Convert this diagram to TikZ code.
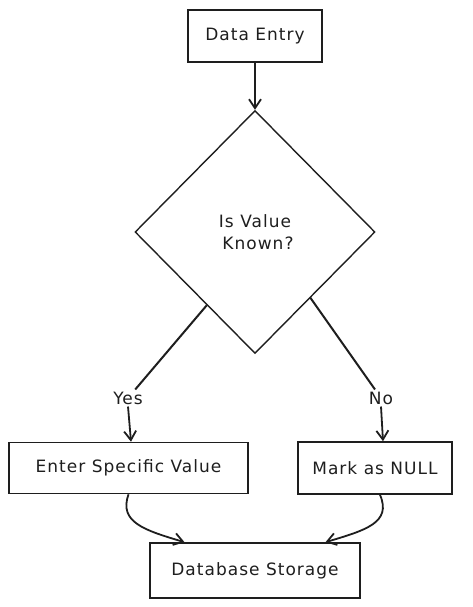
\documentclass[tikz,border=0pt]{standalone}
\usepackage{fontspec}
\setmainfont{DejaVu Sans}[LetterSpace=6]
\usetikzlibrary{shapes.geometric,arrows.meta,calc}
\definecolor{ink}{HTML}{1E1E1E}
\tikzset{
  txt/.style={text=ink, font=\fontsize{17}{22}\selectfont},
  box/.style={txt, draw=ink, line width=1.6pt, rectangle, inner sep=0pt},
  dia/.style={txt, draw=ink, line width=1.4pt, diamond, inner sep=0pt, align=center},
  lbl/.style={txt, inner sep=2pt},
  conn/.style={draw=ink, line width=2pt},
  arr/.style={draw=ink, line width=1.8pt, -{Straight Barb[length=9pt,width=12pt,line width=1.8pt]}}
}
\begin{document}
\begin{tikzpicture}[x=1pt,y=-1pt]
\useasboundingbox (0,0) rectangle (472,607);
\node[box, minimum width=134pt, minimum height=52pt] (de) at (255,36) {Data Entry};
\node[dia, minimum width=240pt, minimum height=243pt] (q) at (255,232) {Is Value\\ \hspace*{6pt}Known?};
\node[box, minimum width=239pt, minimum height=51pt] (esv) at (128.5,468) {Enter Specific Value};
\node[box, minimum width=154pt, minimum height=52pt] (nul) at (375,468) {Mark as NULL};
\node[box, minimum width=210pt, minimum height=55pt] (db) at (255,570.5) {Database Storage};
\node[lbl] (yes) at (128,398) {Yes};
\node[lbl] (no) at (381,398) {No};
\coordinate (ql) at ($(q.west)!0.6!(q.south)$);
\coordinate (qr) at ($(q.east)!0.54!(q.south)$);
\coordinate (dbl) at ($(db.north west)!0.167!(db.north east)$);
\coordinate (dbr) at ($(db.north west)!0.833!(db.north east)$);
\draw[arr] (de) -- (q.north);
\draw[conn] (ql) -- (yes);
\draw[conn] (qr) -- (no);
\draw[arr] (yes.south) -- ([xshift=3pt]yes.south |- esv.north);
\draw[arr] (no.south) -- ([xshift=2pt]no.south |- nul.north);
\draw[arr] (esv.south) .. controls +(-10,28) and +(-40,-12) .. (dbl);
\draw[arr] ([xshift=5pt]nul.south) .. controls +(12,28) and +(40,-12) .. (dbr);
\end{tikzpicture}
\end{document}
